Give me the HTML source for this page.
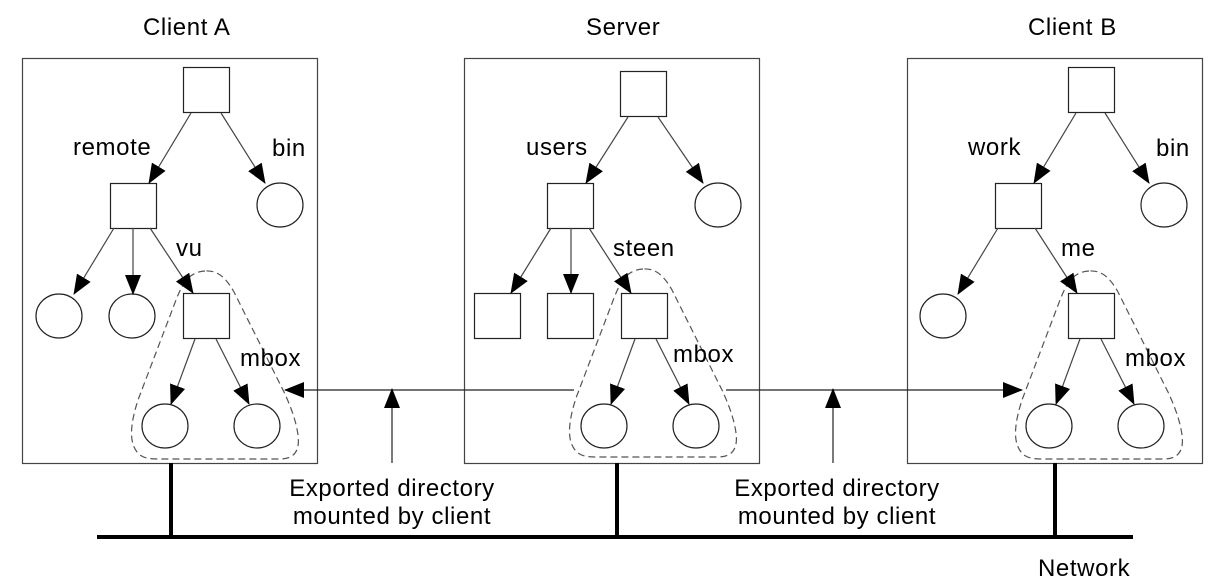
<!DOCTYPE html>
<html><head><meta charset="utf-8"><style>
html,body{margin:0;padding:0;background:#fff}
svg{display:block}
text{font-family:"Liberation Sans",Arial,sans-serif;font-size:24px;letter-spacing:0.6px;fill:#000}
</style></head><body>
<svg width="1227" height="587" viewBox="0 0 1227 587" xmlns="http://www.w3.org/2000/svg">
<defs>
<marker id="a" markerWidth="20" markerHeight="16" refX="19" refY="8" orient="auto" markerUnits="userSpaceOnUse">
<path d="M0,0 L20,8 L0,16 Z" fill="#000"/>
</marker>
</defs>
<g fill="none" stroke="#444" stroke-width="1.2">
<rect x="22.5" y="58.5" width="295" height="405"/>
<rect x="464.5" y="58.5" width="295" height="405"/>
<rect x="907.5" y="58.5" width="295" height="405"/>
</g>
<g stroke="#000" stroke-width="4">
<line x1="97" y1="537" x2="1133" y2="537"/>
<line x1="171" y1="463" x2="171" y2="537"/>
<line x1="617" y1="463" x2="617" y2="537"/>
<line x1="1055" y1="463" x2="1055" y2="537"/>
</g>
<g fill="#fff" stroke="#222" stroke-width="1.2">
<rect x="183.5" y="67.5" width="46" height="45"/>
<rect x="110.5" y="183.5" width="46" height="45"/>
<ellipse cx="280" cy="205" rx="23" ry="22"/>
<ellipse cx="59" cy="316" rx="23" ry="22"/>
<ellipse cx="132" cy="316" rx="23" ry="22"/>
<rect x="183.5" y="293.5" width="46" height="45"/>
<ellipse cx="165" cy="426" rx="23" ry="22"/>
<ellipse cx="257" cy="426" rx="23" ry="22"/>

<rect x="620.5" y="71.5" width="46" height="45"/>
<rect x="547.5" y="183.5" width="46" height="45"/>
<ellipse cx="718" cy="205" rx="23" ry="22"/>
<rect x="474.5" y="293.5" width="46" height="45"/>
<rect x="547.5" y="293.5" width="46" height="45"/>
<rect x="621.5" y="293.5" width="46" height="45"/>
<ellipse cx="604" cy="426" rx="23" ry="22"/>
<ellipse cx="696" cy="426" rx="23" ry="22"/>

<rect x="1068.5" y="67.5" width="46" height="45"/>
<rect x="995.5" y="183.5" width="46" height="45"/>
<ellipse cx="1164" cy="205" rx="23" ry="22"/>
<ellipse cx="943" cy="316" rx="23" ry="22"/>
<rect x="1068.5" y="293.5" width="46" height="45"/>
<ellipse cx="1049" cy="426" rx="23" ry="22"/>
<ellipse cx="1141" cy="426" rx="23" ry="22"/>
</g>
<g fill="none" stroke="#555" stroke-width="1.2" stroke-dasharray="7,4">
<path id="d" d="M205,271 C188,272 182,285 176,300 L138,400 C130,425 128,445 140,455 C146,459 152,459 160,459 L280,459 C295,459 300,450 298,435 C296,420 290,405 284,392 L234,292 C226,278 218,270 205,271 Z"/>
<use href="#d" transform="translate(438,-2)"/>
<use href="#d" transform="translate(884,0)"/>
</g>
<g stroke="#444" stroke-width="1.2" marker-end="url(#a)">
<line x1="191" y1="113" x2="149" y2="183"/>
<line x1="221" y1="113" x2="265" y2="183"/>
<line x1="114" y1="228" x2="74" y2="294"/>
<line x1="133" y1="228" x2="133" y2="294"/>
<line x1="150" y1="228" x2="193" y2="293"/>
<line x1="195" y1="339" x2="171" y2="404"/>
<line x1="216" y1="339" x2="249" y2="404"/>

<line x1="628" y1="117" x2="586" y2="183"/>
<line x1="658" y1="117" x2="703" y2="183"/>
<line x1="551" y1="228" x2="511" y2="293"/>
<line x1="571" y1="228" x2="571" y2="293"/>
<line x1="589" y1="228" x2="631" y2="293"/>
<line x1="635" y1="339" x2="611" y2="404"/>
<line x1="656" y1="339" x2="689" y2="404"/>

<line x1="1076" y1="113" x2="1034" y2="183"/>
<line x1="1105" y1="113" x2="1149" y2="183"/>
<line x1="998" y1="228" x2="958" y2="294"/>
<line x1="1035" y1="228" x2="1077" y2="293"/>
<line x1="1080" y1="339" x2="1056" y2="404"/>
<line x1="1101" y1="339" x2="1134" y2="404"/>
</g>
<g stroke="#222" stroke-width="1.2" marker-end="url(#a)">
<line x1="574" y1="390" x2="285" y2="390"/>
<line x1="726" y1="390" x2="1022" y2="390"/>
<line x1="392" y1="463" x2="392" y2="389"/>
<line x1="833" y1="463" x2="833" y2="389"/>
</g>
<text x="143" y="35">Client A</text>
<text x="586" y="35">Server</text>
<text x="1028" y="35">Client B</text>
<text x="73" y="155">remote</text>
<text x="272" y="156">bin</text>
<text x="176" y="256">vu</text>
<text x="240" y="366">mbox</text>
<text x="526" y="155">users</text>
<text x="613" y="256">steen</text>
<text x="673" y="362">mbox</text>
<text x="968" y="155">work</text>
<text x="1156" y="156">bin</text>
<text x="1061" y="256">me</text>
<text x="1125" y="366">mbox</text>
<text x="392" y="496" text-anchor="middle">Exported directory</text>
<text x="392" y="524" text-anchor="middle">mounted by client</text>
<text x="837" y="496" text-anchor="middle">Exported directory</text>
<text x="837" y="524" text-anchor="middle">mounted by client</text>
<text x="1038" y="576">Network</text>
</svg>
</body></html>
